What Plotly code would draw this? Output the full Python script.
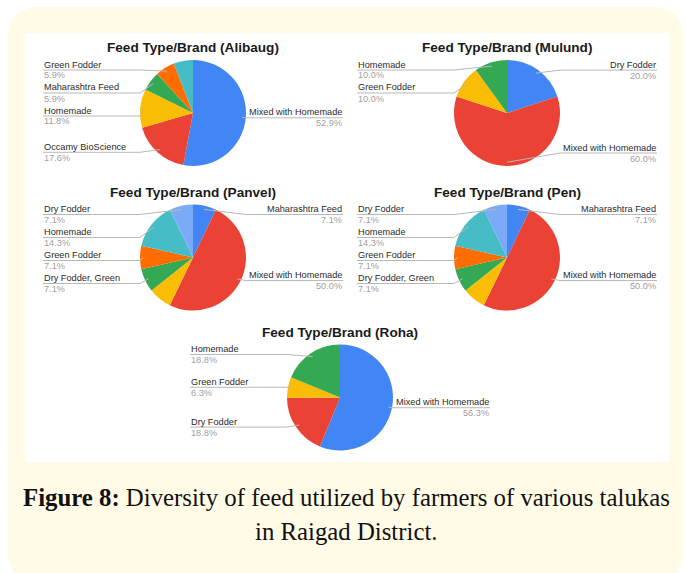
import math
import plotly.graph_objects as go

W, H = 686, 573

# Spreadsheet palette, in slice order
BLUE, RED, YELLOW, GREEN = "#4285F4", "#EA4335", "#FBBC04", "#34A853"
ORANGE, TEAL, LIGHTBLUE = "#FF6D01", "#46BDC6", "#7BAAF7"

# ---- data: share of farmers (%) per feed type, by taluka ----
alibaug_labels = ["Mixed with Homemade", "Occamy BioScience", "Homemade",
                  "Maharashtra Feed", "Green Fodder", ""]
alibaug_values = [52.9, 17.6, 11.8, 5.9, 5.9, 5.9]

mulund_labels = ["Dry Fodder", "Mixed with Homemade", "Green Fodder", "Homemade"]
mulund_values = [20.0, 60.0, 10.0, 10.0]

panvel_labels = ["Maharashtra Feed", "Mixed with Homemade", "", "Dry Fodder, Green",
                 "Green Fodder", "Homemade", "Dry Fodder"]
panvel_values = [7.1, 50.0, 7.1, 7.1, 7.1, 14.3, 7.1]

pen_labels = ["Maharashtra Feed", "Mixed with Homemade", "", "Dry Fodder, Green",
              "Green Fodder", "Homemade", "Dry Fodder"]
pen_values = [7.1, 50.0, 7.1, 7.1, 7.1, 14.3, 7.1]

roha_labels = ["Mixed with Homemade", "Dry Fodder", "Green Fodder", "Homemade"]
roha_values = [56.3, 18.8, 6.3, 18.8]

palette = [BLUE, RED, YELLOW, GREEN, ORANGE, TEAL, LIGHTBLUE]

# panel layout (pixel centres of each pie) and pie radius
R = 53
panels = [
    ("Feed Type/Brand (Alibaug)", alibaug_labels, alibaug_values, 193, 113),
    ("Feed Type/Brand (Mulund)", mulund_labels, mulund_values, 507, 113),
    ("Feed Type/Brand (Panvel)", panvel_labels, panvel_values, 193, 257.5),
    ("Feed Type/Brand (Pen)", pen_labels, pen_values, 507, 257.5),
    ("Feed Type/Brand (Roha)", roha_labels, roha_values, 340, 397.5),
]


def px(x):
    return x / W


def py(y):
    return 1 - y / H


def spread(ys, lo, hi, gap=23):
    """Push label rows apart so they never overlap, keeping them in [lo, hi]."""
    order = sorted(range(len(ys)), key=lambda i: ys[i])
    vals = [ys[i] for i in order]
    for k in range(len(vals)):
        v = max(vals[k], lo)
        if k > 0:
            v = max(v, vals[k - 1] + gap)
        vals[k] = v
    for k in range(len(vals) - 1, -1, -1):
        v = min(vals[k], hi)
        if k < len(vals) - 1:
            v = min(v, vals[k + 1] - gap)
        vals[k] = v
    return {order[k]: vals[k] for k in range(len(order))}


fig = go.Figure()
shapes = []
annotations = []

# card background and white chart panel
x0, y0, x1, y1, rad = 8, 7, 683, 582, 32
card = (f"M {px(x0 + rad)} {py(y0)} L {px(x1 - rad)} {py(y0)} "
        f"Q {px(x1)} {py(y0)} {px(x1)} {py(y0 + rad)} "
        f"L {px(x1)} {py(y1 - rad)} Q {px(x1)} {py(y1)} {px(x1 - rad)} {py(y1)} "
        f"L {px(x0 + rad)} {py(y1)} Q {px(x0)} {py(y1)} {px(x0)} {py(y1 - rad)} "
        f"L {px(x0)} {py(y0 + rad)} Q {px(x0)} {py(y0)} {px(x0 + rad)} {py(y0)} Z")
shapes.append(dict(type="path", path=card, xref="paper", yref="paper",
                   fillcolor="#FFFBE7", line=dict(width=0), layer="below"))
shapes.append(dict(type="rect", xref="paper", yref="paper",
                   x0=px(25), x1=px(669), y0=py(462), y1=py(33),
                   fillcolor="white", line=dict(width=0), layer="below"))

FONT = "Arial, 'Liberation Sans', sans-serif"

for title, labels, values, cx, cy in panels:
    fig.add_trace(go.Pie(
        labels=[lab if lab else " " for lab in labels], values=values,
        sort=False, direction="clockwise", rotation=0,
        marker=dict(colors=palette[:len(values)], line=dict(width=0)),
        textinfo="none", hoverinfo="label+value", showlegend=False,
        domain=dict(x=[px(cx - R), px(cx + R)], y=[py(cy + R), py(cy - R)]),
    ))
    annotations.append(dict(text=f"<b>{title}</b>", x=px(cx), y=py(cy - 65),
                            xref="paper", yref="paper", showarrow=False,
                            xanchor="center", yanchor="middle",
                            font=dict(family=FONT, size=13.6, color="#1A1A1A")))

    total = sum(values)
    cum = 0.0
    sides = {"L": [], "R": []}
    for i, v in enumerate(values):
        mid = (cum + v / 2) / total * 2 * math.pi
        cum += v
        if not labels[i]:
            continue
        edge_y = cy - R * math.cos(mid)
        anc = (cx + 0.93 * R * math.sin(mid), cy - 0.93 * R * math.cos(mid))
        side = "L" if mid > math.pi else "R"
        sides[side].append((i, edge_y, anc))

    for side, items in sides.items():
        if not items:
            continue
        rows = spread([it[1] for it in items], cy - R + 10, cy + R - 13)
        for k, (i, _, (ax, ay)) in enumerate(items):
            ly = rows[k]
            if side == "L":
                lx, bx, anchor = cx - 150, cx - R, "left"
            else:
                lx, bx, anchor = cx + 150, cx + R, "right"
            shapes.append(dict(type="path", xref="paper", yref="paper",
                               path=f"M {px(lx)} {py(ly)} L {px(bx)} {py(ly)} L {px(ax)} {py(ay)}",
                               line=dict(color="#B8B8B8", width=1), layer="above"))
            annotations.append(dict(text=labels[i], x=px(lx), y=py(ly - 5.5),
                                    xref="paper", yref="paper", showarrow=False,
                                    xanchor=anchor, yanchor="middle", borderpad=0,
                                    font=dict(family=FONT, size=9.2, color="#2A2A2A")))
            annotations.append(dict(text=f"{values[i]:.1f}%", x=px(lx), y=py(ly + 5.5),
                                    xref="paper", yref="paper", showarrow=False,
                                    xanchor=anchor, yanchor="middle", borderpad=0,
                                    font=dict(family=FONT, size=9.2, color="#A0A0A0")))

# figure caption
SERIF = "'Liberation Serif', 'DejaVu Serif', serif"
annotations.append(dict(
    text="<b>Figure 8:</b> Diversity of feed utilized by farmers of various talukas",
    x=px(346), y=py(497), xref="paper", yref="paper", showarrow=False,
    xanchor="center", yanchor="middle", font=dict(family=SERIF, size=24.8, color="#111111")))
annotations.append(dict(
    text="in Raigad District.", x=px(346), y=py(531), xref="paper", yref="paper",
    showarrow=False, xanchor="center", yanchor="middle",
    font=dict(family=SERIF, size=24.8, color="#111111")))

fig.update_layout(
    width=W, height=H, margin=dict(l=0, r=0, t=0, b=0),
    paper_bgcolor="white", plot_bgcolor="white",
    shapes=shapes, annotations=annotations,
)

fig.write_html("out.html")
